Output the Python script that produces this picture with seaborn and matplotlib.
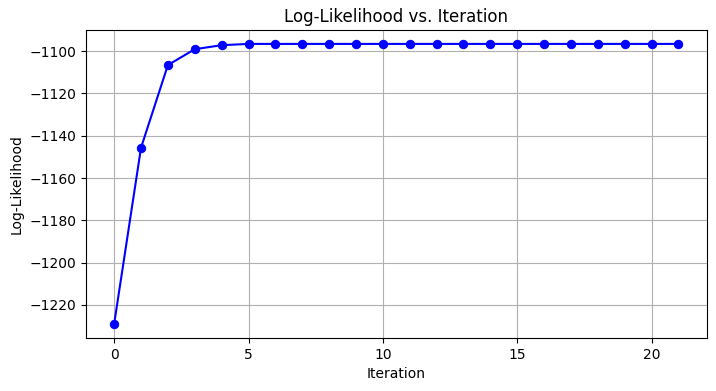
import numpy as np
import pandas as pd
import matplotlib
matplotlib.use("Agg")
import matplotlib.pyplot as plt
import seaborn as sns

iterations = list(range(22))
log_likelihood = [-1229.0, -1145.7, -1106.6, -1099.1, -1097.2, -1096.6,
                  -1096.6, -1096.6, -1096.6, -1096.6, -1096.6, -1096.6,
                  -1096.6, -1096.6, -1096.6, -1096.6, -1096.6, -1096.6,
                  -1096.6, -1096.6, -1096.6, -1096.6]

df = pd.DataFrame({"Iteration": iterations, "Log-Likelihood": log_likelihood})

fig = plt.figure(figsize=(7.16, 3.91), dpi=100)
ax = fig.add_axes([0.120, 0.1355, 0.867, 0.788])
sns.lineplot(x="Iteration", y="Log-Likelihood", data=df, marker="o", color="blue",
             markeredgecolor="blue", markersize=6, linewidth=1.5, ax=ax)
ax.grid(True)
ax.set_title("Log-Likelihood vs. Iteration")
ax.set_xlabel("Iteration")
ax.set_ylabel("Log-Likelihood")
fig.savefig("out.png", dpi=100)
